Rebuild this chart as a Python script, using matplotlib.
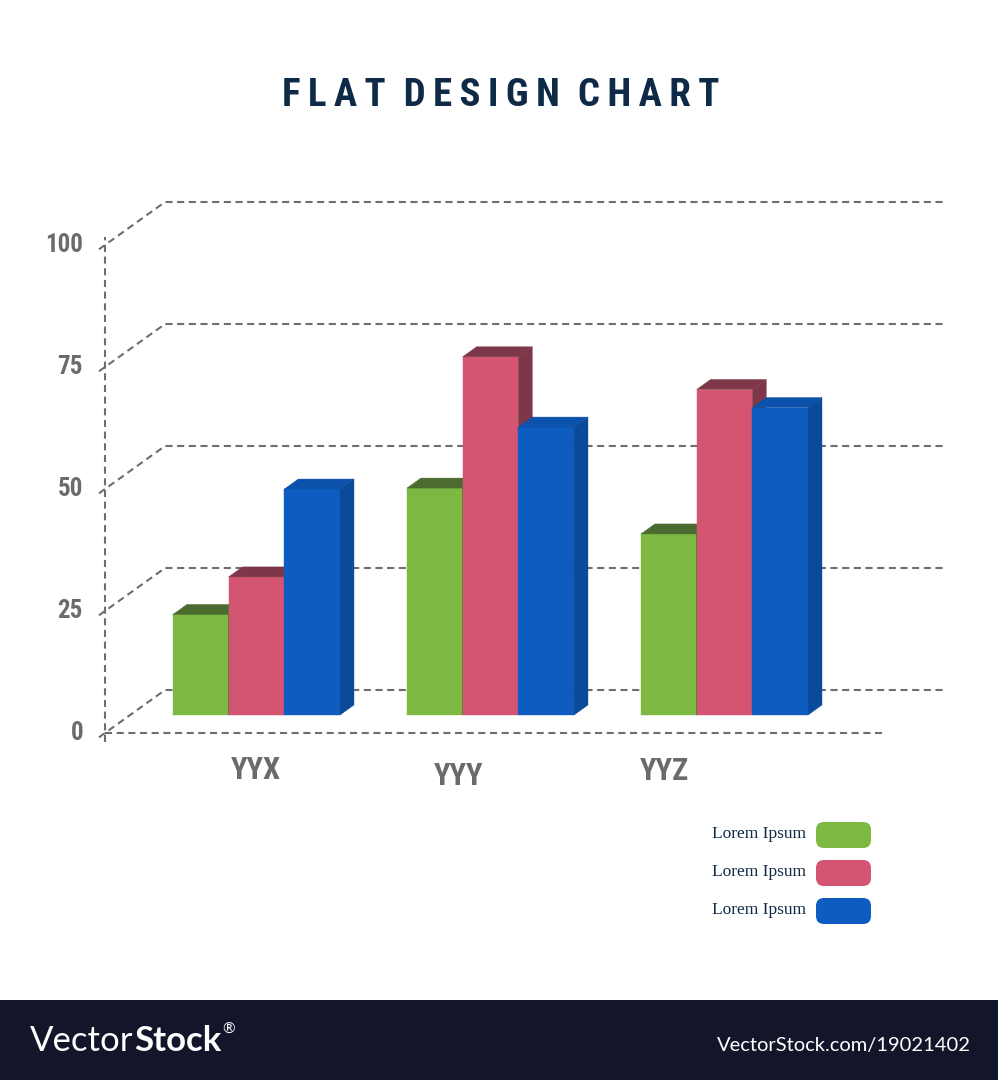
import os
import matplotlib
matplotlib.use('Agg')
import matplotlib.pyplot as plt
from matplotlib import font_manager
from matplotlib.patches import Polygon, Rectangle, FancyBboxPatch

categories = ['YYX', 'YYY', 'YYZ']
series_names = ['Lorem Ipsum', 'Lorem Ipsum', 'Lorem Ipsum']
green_vals = [20.6, 46.5, 37.1]
pink_vals = [28.3, 73.4, 66.7]
blue_vals = [46.3, 59.0, 63.0]
y_ticks = [0, 25, 50, 75, 100]

front_colors = ['#7db843', '#d35572', '#0e5cbf']
top_colors = ['#4b6b30', '#7e3749', '#0c51ab']
side_colors = ['#3f5f27', '#7e3749', '#0a4a9b']
grey = '#6e6e6e'
navy = '#0f2a47'


def pick_font(patterns):
    files = [f.fname for f in font_manager.fontManager.ttflist]
    for pat in patterns:
        for fn in files:
            if os.path.basename(fn).lower().startswith(pat.lower()):
                return fn
    return None


cond_file = pick_font(['NotoSans-ExtraCondensedSemiBold', 'NotoSans-ExtraCondensedBold',
                       'NotoSans-CondensedBold', 'LiberationSansNarrow-Bold',
                       'RobotoCondensed-Bold', 'DejaVuSansCondensed-Bold'])
if cond_file:
    def cond(size):
        return font_manager.FontProperties(fname=cond_file, size=size)
else:
    def cond(size):
        return font_manager.FontProperties(family='DejaVu Sans', weight='bold', size=size * 0.8)

W, H = 998, 1080
fig = plt.figure(figsize=(W / 100, H / 100), dpi=100)
fig.patch.set_facecolor('white')

# main axes: x in category units, y in value units
PX_X = 234.0      # px per category
PX_V = 4.88       # px per value unit
AX_LEFT_PX = 105
ZERO_PX = 733
axis_x = -0.54
x_end = 2.785
ax = fig.add_axes([0, 0, 1, 1])
ax.axis('off')
ax.set_xlim(axis_x - AX_LEFT_PX / PX_X, axis_x + (W - AX_LEFT_PX) / PX_X)
ax.set_ylim(-(H - ZERO_PX) / PX_V, ZERO_PX / PX_V)

# oblique depth (z=0 front plane, z=1 back wall)
DX = 60 / PX_X
DY = 43 / PX_V


def proj(x, v, z):
    return x + z * DX, v + z * DY


dash = dict(color=grey, lw=1.5, ls=(0, (3.4, 2.2)), zorder=1)

for t in y_ticks:
    p0 = proj(axis_x, t, -0.1)
    p1 = proj(axis_x, t, 1)
    p2 = proj(x_end, t, 1)
    ax.plot([p0[0], p1[0], p2[0]], [p0[1], p1[1], p2[1]], **dash)
    ax.text(axis_x - 22 / PX_X, t, str(t), ha='right', va='center',
            fontproperties=cond(18), color='#6b6b6b')

ax.plot([axis_x, x_end], [0, 0], **dash)
ax.plot([axis_x, axis_x], [-1.8, 101.6], **dash)

# bars
bw = 55.7 / PX_X
zb = 18 / 43
dz = 10 / 43
series = [green_vals, pink_vals, blue_vals]
base = zb * DY
for j, vals in enumerate(series):
    xs = [i + (j - 1) * bw + zb * DX for i in range(len(categories))]
    ax.bar(xs, vals, width=bw, bottom=base, color=front_colors[j],
           edgecolor=front_colors[j], lw=0.3, zorder=3 + j)
    for xc, v in zip(xs, vals):
        x0, x1 = xc - bw / 2, xc + bw / 2
        top = base + v
        ddx, ddy = dz * DX, dz * DY
        ax.add_patch(Polygon([(x0, top), (x1, top), (x1 + ddx, top + ddy),
                              (x0 + ddx, top + ddy)], closed=True,
                             fc=top_colors[j], ec=top_colors[j], lw=0.3, zorder=3 + j))
        ax.add_patch(Polygon([(x1, base), (x1, top), (x1 + ddx, top + ddy),
                              (x1 + ddx, base + ddy)], closed=True,
                             fc=side_colors[j], ec=side_colors[j], lw=0.3, zorder=3 + j))

# category labels (slightly offset in the original)
label_px = [(256, 770), (459, 776), (664, 771)]
for name, (px, py) in zip(categories, label_px):
    fig.text(px / W, 1 - py / H, name, ha='center', va='center',
             fontproperties=cond(22), color='#6b6b6b')

# title, letter-spaced
thin = '\u2009'
title = '  '.join(thin.join(word) for word in ['FLAT', 'DESIGN', 'CHART'])
fig.text(500.5 / W, 1 - 95 / H, title, ha='center', va='center',
         fontproperties=cond(28), color=navy)

# legend, drawn in pixel units
lax = fig.add_axes([0, 0, 1, 1])
lax.set_xlim(0, W)
lax.set_ylim(H, 0)
lax.axis('off')
lax.patch.set_alpha(0)
for k, name in enumerate(series_names):
    yc = 835 + k * 38
    lax.add_patch(FancyBboxPatch((816, yc - 13), 55, 26,
                                 boxstyle='round,pad=0,rounding_size=8',
                                 fc=front_colors[k], ec='none'))
    lax.text(806, yc - 1, name, ha='right', va='center', fontsize=12.5,
             color=navy, family='Liberation Serif')

# stock footer band
lax.add_patch(Rectangle((0, 1000), W, 80, fc='#13152a', ec='none'))
t1 = lax.text(30, 1041, 'Vector', ha='left', va='center', fontsize=25,
              color='white', family='Lato', fontweight='normal')
fig.canvas.draw()
bb = t1.get_window_extent()
t2 = lax.text(bb.x1 * W / fig.bbox.width + 1, 1041, 'Stock', ha='left', va='center',
              fontsize=25, color='white', family='Lato', fontweight='bold')
fig.canvas.draw()
bb2 = t2.get_window_extent()
lax.text(bb2.x1 * W / fig.bbox.width + 1, 1030, '®', ha='left', va='center',
         fontsize=11, color='white', family='Lato')
lax.text(971, 1046, 'VectorStock.com/19021402', ha='right', va='center',
         fontsize=14.5, color='white', family='Lato')

fig.savefig('out.png', dpi=100)
